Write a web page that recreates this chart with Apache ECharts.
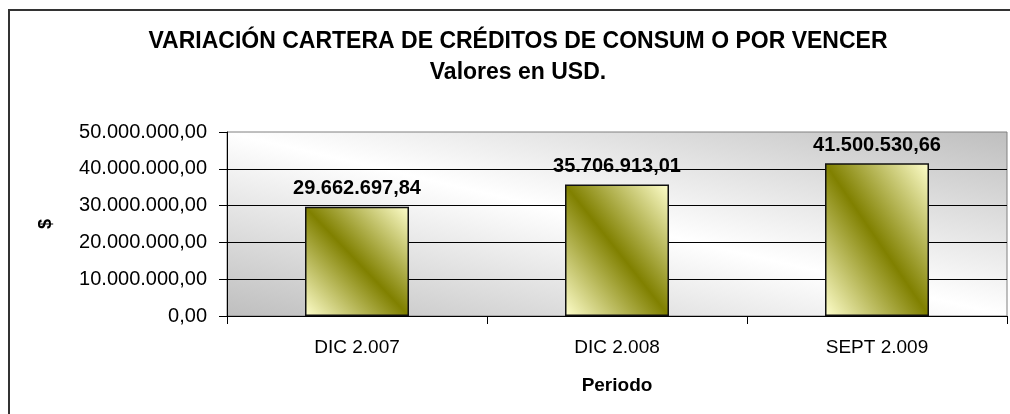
<!DOCTYPE html>
<html>
<head>
<meta charset="utf-8">
<script src="https://cdn.jsdelivr.net/npm/echarts@6/dist/echarts.min.js"></script>
<style>
html,body{margin:0;padding:0;background:#fff;}
#chart{width:1010px;height:414px;}
</style>
</head>
<body>
<div id="chart"></div>
<script>
const titleLine1 = 'VARIACIÓN CARTERA DE CRÉDITOS DE CONSUM O POR VENCER';
const titleLine2 = 'Valores en USD.';
const categories = ['DIC 2.007', 'DIC 2.008', 'SEPT 2.009'];
const values = [29662697.84, 35706913.01, 41500530.66];
const yTicks = { min: 0, max: 50000000, interval: 10000000 };
const xName = 'Periodo';
const yName = '$';

function fmt(v) {
  const parts = Number(v).toFixed(2).split('.');
  const intPart = parts[0].replace(/\B(?=(\d{3})+(?!\d))/g, '.');
  return intPart + ',' + parts[1];
}

// Excel-style diagonal gradient: isoline at 0.5 runs along the TL-BR diagonal of a w x h box
function diagGradient(w, h, c0, c1) {
  const len = Math.sqrt(w * w + h * h);
  const ux = h / len, uy = -w / len;
  const t = Math.abs((-w / 2) * ux + (h / 2) * uy);
  return {
    type: 'linear',
    x: 0.5 - t * ux / w, y: 0.5 - t * uy / h,
    x2: 0.5 + t * ux / w, y2: 0.5 + t * uy / h,
    colorStops: [
      { offset: 0, color: c0 },
      { offset: 0.5, color: c1 },
      { offset: 1, color: c0 }
    ]
  };
}

const FONT = '"Liberation Sans", Arial, sans-serif';
const chart = echarts.init(document.getElementById('chart'), null, { renderer: 'canvas' });

const GRID = { left: 227, right: 3, top: 132, bottom: 98 };
const plotW = 1010 - GRID.left - GRID.right;
const plotH = 414 - GRID.top - GRID.bottom;
const BAR_W = 104;

function buildOption(barHeights) {
  return {
    animation: false,
    backgroundColor: '#fff',
    graphic: [{
      type: 'rect',
      shape: { x: 9, y: 10, width: 1010, height: 420 },
      style: { fill: 'none', stroke: '#333', lineWidth: 2 },
      z: 0
    }],
    title: {
      text: titleLine1 + '\n' + titleLine2,
      left: 513, top: 21, textAlign: 'center',
      textStyle: { fontFamily: FONT, fontWeight: 'bold', fontSize: 23, color: '#000', lineHeight: 31 }
    },
    grid: {
      left: GRID.left, right: GRID.right, top: GRID.top, bottom: GRID.bottom,
      show: true,
      borderColor: '#808080', borderWidth: 1,
      backgroundColor: diagGradient(plotW, plotH, '#bebebe', '#ffffff')
    },
    xAxis: {
      type: 'category',
      data: categories,
      boundaryGap: true,
      name: xName,
      nameLocation: 'middle',
      nameGap: 60,
      nameTextStyle: { fontFamily: FONT, fontWeight: 'bold', fontSize: 19, color: '#000' },
      axisLine: { lineStyle: { color: '#000', width: 1 } },
      axisTick: { show: true, length: 8, lineStyle: { color: '#000' } },
      axisLabel: { fontFamily: FONT, fontSize: 19, color: '#000', margin: 22 },
      splitLine: { show: false }
    },
    yAxis: {
      type: 'value',
      min: yTicks.min, max: yTicks.max, interval: yTicks.interval,
      name: yName,
      nameLocation: 'middle',
      nameGap: 172,
      nameTextStyle: { fontFamily: FONT, fontWeight: 'bold', fontSize: 18, color: '#000' },
      axisLine: { show: true, lineStyle: { color: '#000', width: 1 } },
      axisTick: { show: true, length: 8, lineStyle: { color: '#000' } },
      axisLabel: { fontFamily: FONT, fontSize: 20, color: '#000', margin: 20, formatter: fmt },
      splitLine: { show: true, showMaxLine: false, lineStyle: { color: '#000', width: 1 } }
    },
    series: [{
      type: 'bar',
      data: values.map((v, i) => ({
        value: v,
        itemStyle: {
          color: diagGradient(BAR_W, Math.max(1, barHeights[i]), '#ffffcc', '#808000')
        }
      })),
      barWidth: BAR_W,
      itemStyle: { borderColor: '#111', borderWidth: 1.5 },
      label: {
        show: true, position: 'top', distance: 8,
        fontFamily: FONT, fontWeight: 'bold', fontSize: 20, color: '#000',
        formatter: p => fmt(p.value)
      }
    }]
  };
}

chart.setOption(buildOption(values.map(() => BAR_W)));
const y0 = chart.convertToPixel({ yAxisIndex: 0 }, 0);
const heights = values.map(v => Math.abs(y0 - chart.convertToPixel({ yAxisIndex: 0 }, v)));
chart.setOption(buildOption(heights));
</script>
</body>
</html>
